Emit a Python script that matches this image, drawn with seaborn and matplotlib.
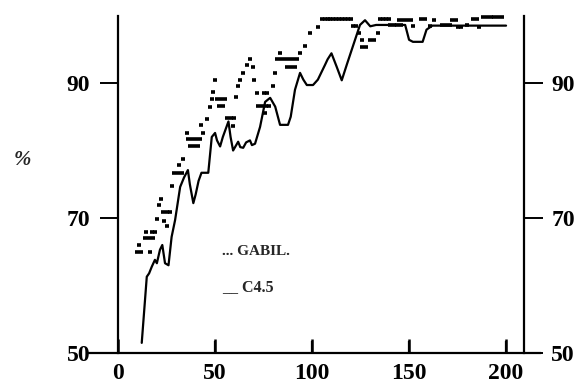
import matplotlib
matplotlib.use("Agg")
import matplotlib.pyplot as plt
import seaborn as sns
import pandas as pd

# GABIL accuracy (%) per number of examples seen
gabil_x = [10, 11, 12, 14, 14.5, 16, 16.5, 17.5, 18, 19, 20, 21, 22, 23, 23.5, 25, 25, 27,
           27.6, 29, 31, 31.5, 33, 33.6, 35.4, 36, 37, 38, 39, 40, 41, 42, 43, 44, 45.7,
           47.4, 48.3, 49, 50, 51, 52, 53, 54, 55, 56, 58, 59, 60, 61, 62, 63, 64.6, 66.3,
           68, 69.6, 70, 71.5, 72, 74, 75, 75.5, 76, 77, 78, 79.7, 81, 82, 83.5, 84, 86,
           87, 88, 89, 90, 91, 92, 93.8, 96.4, 99, 103,
           105, 106.5, 108, 109.5, 111, 112.5, 114, 115.5, 117, 118.5, 120,
           121, 122.5, 124, 125.5, 126, 128, 130, 132, 134,
           135, 136.5, 138, 139.5, 140, 142, 144, 146, 145, 147, 149, 151, 152,
           156, 158, 161, 163, 167, 169, 171, 172, 174, 175, 177, 180, 183, 185, 186,
           188, 190, 192, 194, 196, 198]
gabil_y = [65.0, 66.0, 65.0, 67.0, 68.0, 67.0, 65.0, 68.0, 67.0, 68.0, 69.8, 71.9, 72.8, 70.9,
           69.6, 70.9, 68.8, 70.9, 74.7, 76.7, 76.7, 77.8, 76.7, 78.7, 82.6, 81.7, 80.7,
           81.7, 80.7, 81.7, 80.7, 81.7, 83.8, 82.6, 84.6, 86.4, 87.6, 88.6, 90.4, 87.6,
           86.6, 87.6, 86.6, 87.6, 84.8, 84.8, 83.6, 84.8, 88.0, 89.5, 90.4, 91.5, 92.7,
           93.5, 92.4, 90.4, 88.5, 86.6, 86.6, 88.5, 85.5, 86.6, 88.5, 86.6, 89.5, 91.5,
           93.5, 94.5, 93.5, 93.5, 92.4, 93.5, 92.4, 93.5, 92.4, 93.5, 94.4, 95.5, 97.4,
           98.3,
           99.5, 99.5, 99.5, 99.5, 99.5, 99.5, 99.5, 99.5, 99.5, 99.5, 99.5,
           98.4, 98.4, 97.4, 96.4, 95.4, 95.4, 96.4, 96.4, 97.4,
           99.5, 99.5, 99.5, 99.5, 98.6, 98.6, 98.6, 98.6, 99.3, 99.3, 99.3, 99.3, 98.4,
           99.5, 99.5, 98.4, 99.3, 98.6, 98.6, 98.6, 99.3, 99.3, 98.3, 98.3, 98.6, 99.5,
           99.5, 98.3, 99.8, 99.8, 99.8, 99.8, 99.8, 99.8]

# C4.5 accuracy (%)
c45_x = [12.2, 13.9, 14.8, 16, 17.4, 19, 20, 21.6, 22.8, 24.2, 26, 27.6, 29.4, 32, 34, 36,
         37, 38.8, 40, 41.5, 43, 46.5, 48.3, 50, 51, 52.6, 54, 56.9, 58, 59.3, 61.9, 63,
         64.5, 66, 68, 69, 70.6, 73.2, 75.8, 78.4, 81, 83.5, 87.6, 89, 91.2, 93.8, 95.5,
         97.3, 100.5, 103, 106.7, 108, 110, 112.7, 115.3, 118, 121, 124.7, 127.3, 130,
         133, 140, 148, 150, 152, 157, 159, 162, 170, 180, 190, 200]
c45_y = [51.5, 57.9, 61.3, 61.8, 62.8, 63.8, 63.3, 65.3, 66.0, 63.3, 63.0, 67.2, 69.7, 74.6,
         76.0, 77.1, 75.0, 72.2, 73.5, 75.5, 76.7, 76.7, 82.0, 82.6, 81.5, 80.6, 82.0,
         84.3, 82.0, 80.0, 81.3, 80.5, 80.4, 81.2, 81.5, 80.8, 81.0, 83.5, 87.2, 87.8,
         86.5, 83.8, 83.8, 85.0, 89.0, 91.5, 90.5, 89.7, 89.7, 90.5, 92.7, 93.5, 94.4,
         92.4, 90.4, 92.8, 95.4, 98.6, 99.3, 98.4, 98.6, 98.6, 98.6, 96.4, 96.1, 96.1,
         97.9, 98.5, 98.5, 98.5, 98.5, 98.5]

x_ticks = [0, 50, 100, 150, 200]
y_ticks = [50, 70, 90]

gabil = pd.DataFrame({"x": gabil_x, "y": gabil_y})
c45 = pd.DataFrame({"x": c45_x, "y": c45_y})

sns.set_style("white", {"xtick.bottom": True, "ytick.left": True})
plt.rcParams["font.family"] = ["Liberation Serif", "DejaVu Serif"]

fig = plt.figure(figsize=(5.8, 3.85), dpi=100)
ax = fig.add_axes([88 / 580, 32 / 385, 452 / 580, 337.5 / 385])

sns.lineplot(data=c45, x="x", y="y", ax=ax, color="black", linewidth=1.6,
             sort=False, estimator=None, clip_on=False)
sns.scatterplot(data=gabil, x="x", y="y", ax=ax, color="black", marker="_",
                s=12, linewidth=2.6, clip_on=False)

ax.set_xlim(-15.5, 217.5)
ax.set_ylim(50, 100)
ax.set_xlabel("")
ax.set_ylabel("")

# spines: left at x=0, right at x=209, bottom across the full width
ax.spines["top"].set_visible(False)
ax.spines["left"].set_position(("data", 0))
ax.spines["right"].set_position(("data", 209))
for s in ["left", "right", "bottom"]:
    ax.spines[s].set_linewidth(1.6)
    ax.spines[s].set_color("black")

ax.set_xticks(x_ticks)
ax.set_yticks(y_ticks)
ax.tick_params(axis="x", direction="in", length=10, width=1.8, pad=7,
               labelsize=17, colors="black", bottom=True)
ax.tick_params(axis="y", direction="out", length=13, width=1.4, pad=7,
               labelsize=17, colors="black", left=True, right=True,
               labelleft=True, labelright=True)
for lab in ax.get_xticklabels() + ax.get_yticklabels():
    lab.set_fontweight("bold")
for t in ax.yaxis.get_major_ticks():
    t.tick2line.set_markersize(14)
    t.label2.set_fontweight("bold")

# inward bottom tick marks, drawn explicitly so they always show
ax.vlines(x_ticks[1:], 0, 0.036, transform=ax.get_xaxis_transform(),
          color="black", linewidth=1.6, clip_on=False)

ax.text(53.6, 65, "... GABIL.", fontsize=11, fontweight="bold", va="center")
ax.text(53.6, 59.8, "__ C4.5", fontsize=11.5, fontweight="bold", va="center")

fig.text(22 / 580, 1 - 160 / 385, "%", fontsize=15, fontstyle="italic",
         fontweight="bold", ha="center", va="center")

fig.savefig("out.png", dpi=100)
